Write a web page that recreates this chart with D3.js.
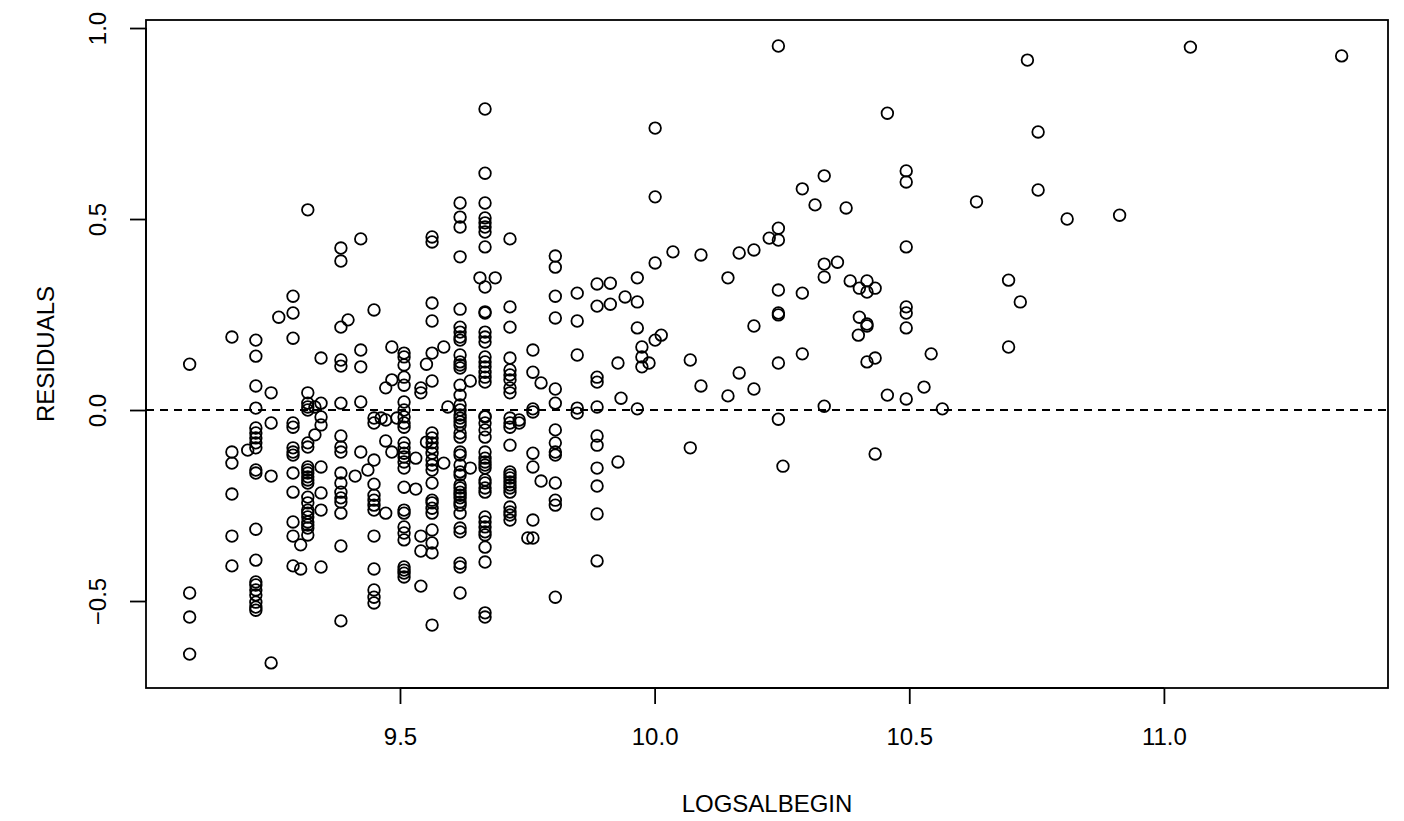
<!DOCTYPE html>
<html>
<head>
<meta charset="utf-8">
<script src="https://cdn.jsdelivr.net/npm/d3@7"></script>
<style>
  html, body { margin: 0; padding: 0; background: #fff; }
  svg { display: block; }
  text { font-family: "Liberation Sans", Arial, Helvetica, sans-serif; fill: #000; }
</style>
</head>
<body>
<svg id="chart" width="1404" height="821"></svg>
<script>
// ---- data: distinct LOGSALBEGIN levels and the residuals observed at each ----
const logSalBeginLevels = [
  9.087, 9.170, 9.201, 9.217, 9.247, 9.262, 9.290, 9.305, 9.319, 9.333,
  9.345, 9.384, 9.398, 9.412, 9.423, 9.437, 9.449, 9.463, 9.472, 9.484,
  9.494, 9.508, 9.531, 9.541, 9.552, 9.563, 9.586, 9.594, 9.618, 9.638,
  9.657, 9.667, 9.687, 9.716, 9.734, 9.751, 9.761, 9.777, 9.805, 9.848,
  9.887, 9.913, 9.928, 9.934, 9.942, 9.966, 9.975, 9.989, 10.001, 10.013,
  10.036, 10.070, 10.091, 10.144, 10.166, 10.195, 10.225, 10.243, 10.252, 10.290,
  10.315, 10.333, 10.359, 10.376, 10.384, 10.400, 10.402, 10.417, 10.433, 10.457,
  10.494, 10.529, 10.543, 10.565, 10.632, 10.695, 10.718, 10.732, 10.753, 10.810,
  10.913, 11.052, 11.349
];
const residualsByLevel = [
  [0.120, -0.479, -0.542, -0.639],
  [0.191, -0.110, -0.139, -0.220, -0.330, -0.408],
  [-0.105],
  [0.183, 0.141, 0.063, 0.005, -0.047, -0.060, -0.073, -0.086, -0.099, -0.157, -0.165, -0.312, -0.393, -0.450, -0.458, -0.471, -0.484, -0.503, -0.516, -0.524],
  [0.045, -0.034, -0.173, -0.662],
  [0.243],
  [0.298, 0.254, 0.188, -0.034, -0.045, -0.099, -0.110, -0.118, -0.165, -0.215, -0.293, -0.330, -0.408],
  [-0.353, -0.416],
  [0.524, 0.045, 0.018, 0.008, 0.0, -0.086, -0.097, -0.149, -0.157, -0.165, -0.175, -0.183, -0.191, -0.228, -0.243, -0.262, -0.270, -0.280, -0.293, -0.301, -0.309, -0.327],
  [0.008, -0.065],
  [0.136, 0.018, -0.018, -0.039, -0.149, -0.217, -0.262, -0.411],
  [0.424, 0.390, 0.217, 0.131, 0.115, 0.018, -0.068, -0.097, -0.110, -0.165, -0.191, -0.215, -0.230, -0.241, -0.270, -0.356, -0.552],
  [0.236],
  [-0.173],
  [0.448, 0.157, 0.113, 0.021, -0.110],
  [-0.157],
  [0.262, -0.021, -0.034, -0.131, -0.194, -0.223, -0.236, -0.249, -0.262, -0.330, -0.416, -0.471, -0.490, -0.505],
  [-0.021],
  [0.058, -0.026, -0.081, -0.270],
  [0.165, 0.079, -0.110],
  [-0.021],
  [0.149, 0.139, 0.118, 0.086, 0.065, 0.021, 0.0, -0.018, -0.034, -0.045, -0.086, -0.099, -0.113, -0.123, -0.136, -0.152, -0.202, -0.262, -0.270, -0.306, -0.322, -0.340, -0.411, -0.419, -0.427, -0.437],
  [-0.126, -0.207],
  [0.058, 0.045, -0.330, -0.369, -0.461],
  [0.120, -0.084],
  [0.453, 0.440, 0.280, 0.233, 0.149, 0.076, -0.060, -0.073, -0.086, -0.099, -0.113, -0.131, -0.144, -0.157, -0.191, -0.236, -0.243, -0.257, -0.270, -0.314, -0.348, -0.374, -0.563],
  [0.165, -0.139],
  [0.008],
  [0.542, 0.505, 0.479, 0.401, 0.264, 0.217, 0.204, 0.191, 0.183, 0.144, 0.126, 0.118, 0.110, 0.065, 0.039, 0.013, 0.0, -0.013, -0.021, -0.031, -0.039, -0.060, -0.071, -0.110, -0.118, -0.144, -0.162, -0.170, -0.196, -0.204, -0.215, -0.223, -0.230, -0.241, -0.249, -0.270, -0.309, -0.319, -0.401, -0.411, -0.479],
  [0.076, -0.152],
  [0.346],
  [0.788, 0.620, 0.542, 0.503, 0.490, 0.479, 0.466, 0.427, 0.322, 0.257, 0.254, 0.204, 0.191, 0.178, 0.139, 0.126, 0.113, 0.099, 0.086, 0.073, -0.016, -0.018, -0.034, -0.052, -0.071, -0.110, -0.126, -0.136, -0.144, -0.152, -0.183, -0.191, -0.204, -0.215, -0.280, -0.293, -0.306, -0.319, -0.327, -0.359, -0.398, -0.531, -0.542],
  [0.346],
  [0.448, 0.270, 0.217, 0.136, 0.105, 0.092, 0.079, 0.058, 0.045, -0.021, -0.034, -0.045, -0.092, -0.162, -0.170, -0.178, -0.188, -0.196, -0.204, -0.215, -0.254, -0.267, -0.275, -0.288],
  [-0.026, -0.034],
  [-0.335],
  [0.157, 0.099, 0.003, -0.005, -0.113, -0.149, -0.288, -0.335],
  [0.071, -0.186],
  [0.403, 0.374, 0.298, 0.241, 0.055, 0.018, -0.052, -0.086, -0.110, -0.118, -0.191, -0.236, -0.249, -0.490],
  [0.306, 0.233, 0.144, 0.005, -0.008],
  [0.330, 0.272, 0.086, 0.073, 0.008, -0.068, -0.092, -0.152, -0.199, -0.272, -0.395],
  [0.332, 0.277],
  [0.123, -0.136],
  [0.031],
  [0.296],
  [0.346, 0.283, 0.215, 0.003],
  [0.165, 0.139, 0.113],
  [0.123],
  [0.738, 0.558, 0.385, 0.183],
  [0.196],
  [0.414],
  [0.131, -0.099],
  [0.406, 0.063],
  [0.346, 0.037],
  [0.411, 0.097],
  [0.419, 0.220, 0.055],
  [0.450],
  [0.953, 0.476, 0.445, 0.314, 0.254, 0.249, 0.123, -0.024],
  [-0.147],
  [0.579, 0.306, 0.147],
  [0.537],
  [0.613, 0.382, 0.348, 0.010],
  [0.387],
  [0.529],
  [0.338],
  [0.196],
  [0.319, 0.243],
  [0.338, 0.309, 0.225, 0.220, 0.126],
  [0.319, 0.136, -0.115],
  [0.777, 0.039],
  [0.626, 0.597, 0.427, 0.270, 0.254, 0.215, 0.029],
  [0.060],
  [0.147],
  [0.003],
  [0.545],
  [0.340, 0.165],
  [0.283],
  [0.916],
  [0.728, 0.576],
  [0.500],
  [0.510],
  [0.950],
  [0.927]
];
const xTickValues = [9.5, 10.0, 10.5, 11.0];
const xTickLabels = ["9.5", "10.0", "10.5", "11.0"];
const yTickValues = [-0.5, 0.0, 0.5, 1.0];
const yTickLabels = ["\u22120.5", "0.0", "0.5", "1.0"];
const xTitle = "LOGSALBEGIN";
const yTitle = "RESIDUALS";

// ---- layout ----
const box = { left: 146, right: 1388, top: 20, bottom: 688 };
const svg = d3.select("#chart");

const x = d3.scaleLinear().domain([9.0013, 11.440]).range([box.left, box.right]);
const y = d3.scaleLinear().domain([-0.7277, 1.021]).range([box.bottom, box.top]);

const points = [];
logSalBeginLevels.forEach((lv, i) => {
  residualsByLevel[i].forEach(r => points.push({ x: lv, y: r }));
});

// zero reference line
svg.append("line")
  .attr("x1", box.left).attr("x2", box.right)
  .attr("y1", y(0)).attr("y2", y(0))
  .attr("stroke", "#000").attr("stroke-width", 1.8)
  .attr("stroke-dasharray", "8,6");

// points
svg.append("g").selectAll("circle")
  .data(points).enter().append("circle")
  .attr("cx", d => x(d.x))
  .attr("cy", d => y(d.y))
  .attr("r", 5.8)
  .attr("fill", "none")
  .attr("stroke", "#000")
  .attr("stroke-width", 1.8);

// box
svg.append("rect")
  .attr("x", box.left).attr("y", box.top)
  .attr("width", box.right - box.left).attr("height", box.bottom - box.top)
  .attr("fill", "none").attr("stroke", "#000").attr("stroke-width", 1.8);

// x axis
const xAxis = d3.axisBottom(x).tickValues(xTickValues)
  .tickFormat((d, i) => xTickLabels[i]).tickSize(16).tickSizeOuter(0).tickPadding(24);
const gx = svg.append("g").attr("transform", `translate(0,${box.bottom})`).call(xAxis);
gx.select(".domain").remove();
gx.selectAll(".tick line").attr("stroke", "#000").attr("stroke-width", 1.8);
gx.selectAll(".tick text").attr("font-size", 24).attr("font-family", "Liberation Sans, Arial, sans-serif").attr("fill", "#000");
gx.append("line").attr("x1", x(xTickValues[0])).attr("x2", x(xTickValues[xTickValues.length - 1]))
  .attr("y1", 0).attr("y2", 0).attr("stroke", "#000").attr("stroke-width", 1.8);

// y axis
const yAxis = d3.axisLeft(y).tickValues(yTickValues)
  .tickFormat((d, i) => yTickLabels[i]).tickSize(16).tickSizeOuter(0);
const gy = svg.append("g").attr("transform", `translate(${box.left},0)`).call(yAxis);
gy.select(".domain").remove();
gy.selectAll(".tick line").attr("stroke", "#000").attr("stroke-width", 1.8);
gy.selectAll(".tick text")
  .attr("font-size", 24).attr("font-family", "Liberation Sans, Arial, sans-serif").attr("fill", "#000")
  .attr("x", null).attr("dy", null)
  .attr("text-anchor", "middle")
  .attr("transform", "translate(-40,0) rotate(-90)");
gy.append("line").attr("y1", y(yTickValues[0])).attr("y2", y(yTickValues[yTickValues.length - 1]))
  .attr("x1", 0).attr("x2", 0).attr("stroke", "#000").attr("stroke-width", 1.8);

// titles
svg.append("text")
  .attr("x", (box.left + box.right) / 2).attr("y", 812)
  .attr("text-anchor", "middle").attr("font-size", 24)
  .text(xTitle);
svg.append("text")
  .attr("transform", `translate(54,${(box.top + box.bottom) / 2}) rotate(-90)`)
  .attr("text-anchor", "middle").attr("font-size", 24)
  .text(yTitle);
</script>
</body>
</html>
